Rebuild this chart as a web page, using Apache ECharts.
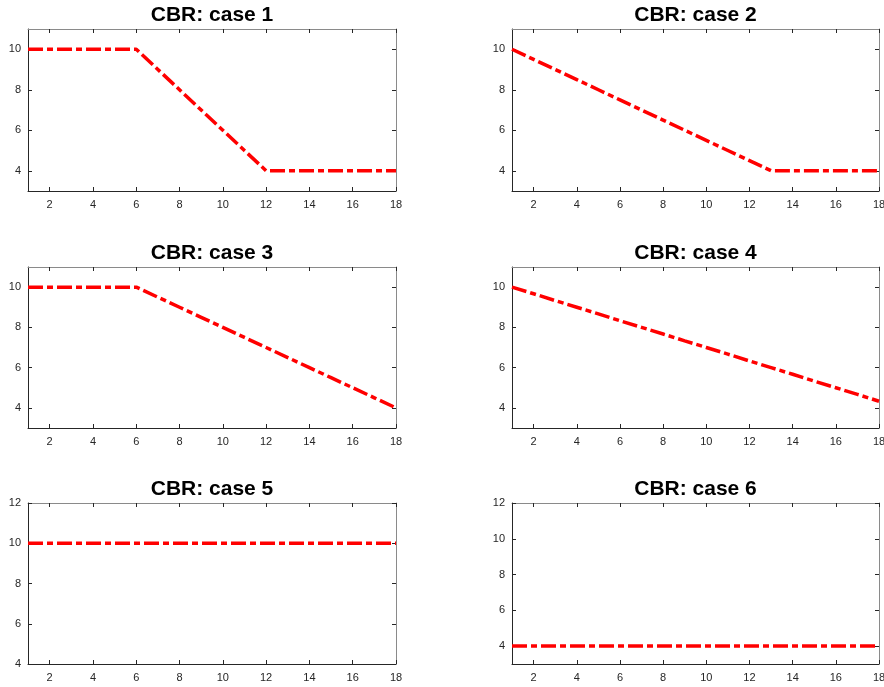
<!DOCTYPE html>
<html>
<head>
<meta charset="utf-8">
<script src="https://cdn.jsdelivr.net/npm/echarts@6/dist/echarts.min.js"></script>
<style>
  html, body { margin: 0; padding: 0; background: #fff; }
  #main { width: 884px; height: 687px; }
</style>
</head>
<body>
<div id="main"></div>
<script>
// horizon (x) and CBR values for each case
var steps = [1, 2, 3, 4, 5, 6, 7, 8, 9, 10, 11, 12, 13, 14, 15, 16, 17, 18];
var case1 = [10, 10, 10, 10, 10, 10, 9, 8, 7, 6, 5, 4, 4, 4, 4, 4, 4, 4];
var case2 = [10, 9.5, 9, 8.5, 8, 7.5, 7, 6.5, 6, 5.5, 5, 4.5, 4, 4, 4, 4, 4, 4];
var case3 = [10, 10, 10, 10, 10, 10, 9.5, 9, 8.5, 8, 7.5, 7, 6.5, 6, 5.5, 5, 4.5, 4];
var case4 = [10, 9.67, 9.33, 9, 8.67, 8.33, 8, 7.67, 7.33, 7, 6.67, 6.33, 6, 5.67, 5.33, 5, 4.67, 4.33];
var case5 = [10, 10, 10, 10, 10, 10, 10, 10, 10, 10, 10, 10, 10, 10, 10, 10, 10, 10];
var case6 = [4, 4, 4, 4, 4, 4, 4, 4, 4, 4, 4, 4, 4, 4, 4, 4, 4, 4];

var titles = ['CBR: case 1', 'CBR: case 2', 'CBR: case 3', 'CBR: case 4', 'CBR: case 5', 'CBR: case 6'];
var xTicks = [2, 4, 6, 8, 10, 12, 14, 16, 18];
var yTicksA = [4, 6, 8, 10];
var yTicksB = [4, 6, 8, 10, 12];
var yRanges = [[3, 11], [3, 11], [3, 11], [3, 11], [4, 12], [3, 12]];
var yTickSets = [yTicksA, yTicksA, yTicksA, yTicksA, yTicksB, yTicksB];
var allCases = [case1, case2, case3, case4, case5, case6];

var myChart = echarts.init(document.getElementById('main'));

var cols = [{left: 28, width: 368}, {left: 512, width: 367}];
var rows = [{top: 29, height: 162}, {top: 267, height: 161}, {top: 503, height: 161}];
var font = 'Liberation Sans, Arial, sans-serif';
var dark = '#262626';
var light = '#8a8a8a';

var grids = [], xAxes = [], yAxes = [], series = [], title = [];

allCases.forEach(function (vals, i) {
  var c = cols[i % 2], r = rows[Math.floor(i / 2)];
  grids.push({left: c.left, top: r.top, width: c.width, height: r.height,
    containLabel: false, outerBoundsMode: 'none'});

  title.push({
    text: titles[i],
    left: c.left + c.width / 2,
    top: r.top - 24,
    textAlign: 'center',
    padding: 0,
    textStyle: {fontFamily: font, fontSize: 21, fontWeight: 'bold', color: '#000'}
  });

  var tickIn = {show: true, inside: true, length: 4, lineStyle: {color: dark, width: 1}};

  // bottom / left axes with labels
  xAxes.push({
    type: 'value', gridIndex: i, min: 1, max: 18, position: 'bottom',
    axisLine: {show: true, onZero: false, lineStyle: {color: dark, width: 1}},
    axisTick: Object.assign({customValues: xTicks}, tickIn),
    axisLabel: {customValues: xTicks, color: dark, fontFamily: font, fontSize: 11, margin: 8},
    splitLine: {show: false}
  });
  // top axis: box edge with ticks only
  xAxes.push({
    type: 'value', gridIndex: i, min: 1, max: 18, position: 'top',
    axisLine: {show: true, onZero: false, lineStyle: {color: light, width: 1}},
    axisTick: Object.assign({customValues: xTicks}, tickIn),
    axisLabel: {show: false},
    splitLine: {show: false}
  });
  yAxes.push({
    type: 'value', gridIndex: i, min: yRanges[i][0], max: yRanges[i][1], position: 'left',
    axisLine: {show: true, onZero: false, lineStyle: {color: dark, width: 1}},
    axisTick: Object.assign({customValues: yTickSets[i]}, tickIn),
    axisLabel: {customValues: yTickSets[i], color: dark, fontFamily: font, fontSize: 11, margin: 7},
    splitLine: {show: false}
  });
  yAxes.push({
    type: 'value', gridIndex: i, min: yRanges[i][0], max: yRanges[i][1], position: 'right',
    axisLine: {show: true, onZero: false, lineStyle: {color: light, width: 1}},
    axisTick: Object.assign({customValues: yTickSets[i]}, tickIn),
    axisLabel: {show: false},
    splitLine: {show: false}
  });

  series.push({
    type: 'line',
    xAxisIndex: i * 2,
    yAxisIndex: i * 2,
    data: steps.map(function (x, k) { return [x, vals[k]]; }),
    showSymbol: false,
    symbol: 'none',
    silent: true,
    animation: false,
    lineStyle: {color: '#ff0000', width: 3.5, type: [15, 4, 6, 4]}
  });
});

var option = {
  animation: false,
  backgroundColor: '#ffffff',
  title: title,
  grid: grids,
  xAxis: xAxes,
  yAxis: yAxes,
  series: series
};
// 绘制图表
myChart.setOption(option);
</script>
</body>
</html>
